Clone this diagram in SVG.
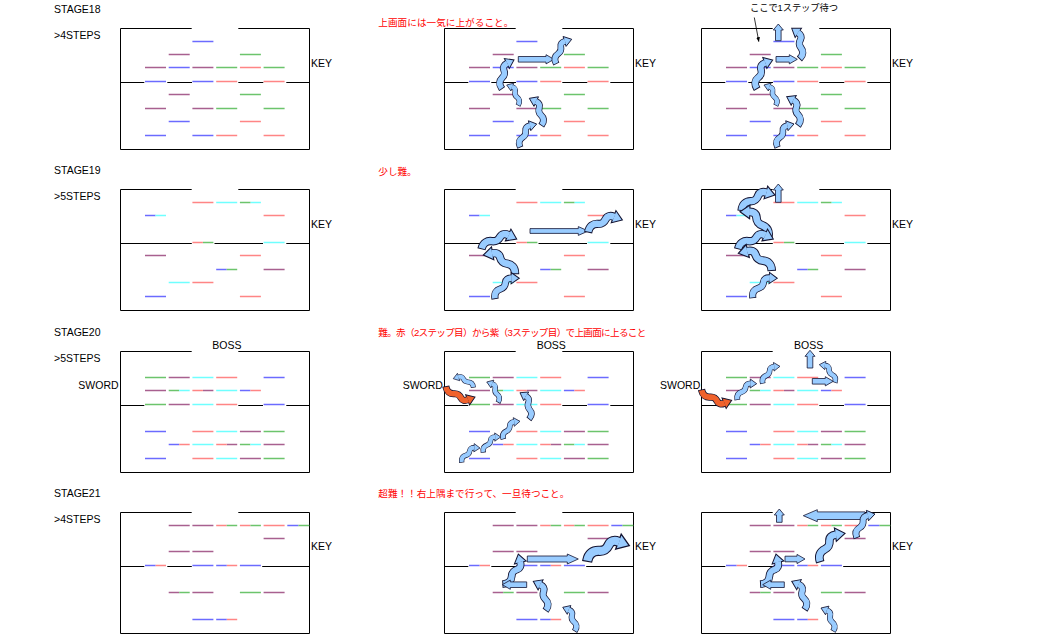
<svg xmlns="http://www.w3.org/2000/svg" width="1062" height="638" viewBox="0 0 1062 638">
<style>
.box{fill:none;stroke:#000;stroke-width:1}
.st{fill:none;stroke-width:1.3}
.b{stroke:#6b6bff}.p{stroke:#a8608f}.g{stroke:#6cc46c}.r{stroke:#ff8585}.c{stroke:#6fffff}
.t{font-family:"Liberation Sans",Arial,sans-serif;font-size:10.5px;fill:#000}
.j{font-family:"Liberation Sans","Noto Sans CJK JP",sans-serif;font-size:9.6px;fill:#f00}
.ar{fill:#99ccff;stroke:#141432;stroke-width:0.8}
.wb{color:#99ccff}.wo{color:#f0622c}
</style>
<defs>
<marker id="ah" viewBox="0 0 10 10" refX="9" refY="5" markerWidth="6" markerHeight="6" orient="auto"><path d="M0,1L10,5L0,9Z" fill="#000"/></marker>
<g id="wv">
<path d="M-1.4,2.4L0,0C8,-14 20,-17 32,-12C44,-7 50,-10 58,-18C64,-24 73,-23 80.1,-16.7" fill="none" stroke="#141432" stroke-width="23"/>
<path d="M68.5,-2.9L100,0L91.7,-30.5Z" fill="currentColor" stroke="#141432" stroke-width="3"/>
<path d="M0,0C8,-14 20,-17 32,-12C44,-7 50,-10 58,-18C64,-24 73,-23 80.1,-16.7L81.6,-15.4" fill="none" stroke="currentColor" stroke-width="18"/>
</g>
<path id="bx" class="box" d="M71.2,0H0V121H189V0H117.8"/>
<g id="s18">
<use href="#bx"/>
<path class="box" d="M0,54H23.8M46.8,54H71.5M117.8,54H142.8M165.8,54H189"/>
<path class="st b" d="M71.9,13h21M48.2,39h21M24.5,53h21M71.9,53h21M48.2,93h21M24.5,107h21M71.9,107h21"/>
<path class="st p" d="M48.2,26h21M24.5,39h21M71.9,39h21M48.2,66h21M24.5,80h21M71.9,80h21"/>
<path class="st g" d="M119.4,26h21M95.7,39h21M143.1,39h21M119.4,66h21M95.7,80h21M143.1,80h21"/>
<path class="st r" d="M119.4,39h21M95.7,53h21M143.1,53h21M119.4,93h21M95.7,107h21M143.1,107h21"/>
</g>
<g id="s19">
<use href="#bx"/>
<path class="box" d="M0,54H71.3M94,54H142.5M165.8,54H189"/>
<path class="st b" d="M24.5,26h10.5M95.7,80h10.5M24.5,107h21"/>
<path class="st c" d="M95.7,13h21M129.9,13h10.5M35,26h10.5M143.1,53h21M48.2,93h21"/>
<path class="st g" d="M119.4,13h10.5M82.4,53h10.5M106.2,80h10.5"/>
<path class="st r" d="M71.9,13h21M143.1,26h21M71.9,53h10.5M119.4,66h21M71.9,93h21M119.4,107h21"/>
<path class="st p" d="M24.5,66h21M143.1,80h21"/>
</g>
<g id="s20">
<use href="#bx"/>
<path class="box" d="M0,54H23.8M117.8,54H142.5M165.8,54H189"/>
<path class="st b" d="M143.1,26h21M119.4,39h10.5M143.1,53h21M24.5,80h21M48.2,93h10.5M24.5,107h21"/>
<path class="st p" d="M48.2,26h21M24.5,39h21M82.4,39h10.5M48.2,53h21M119.4,80h21M106.2,93h10.5M143.1,93h21M119.4,107h21"/>
<path class="st g" d="M24.5,26h21M48.2,39h10.5M24.5,53h21M143.1,80h21M119.4,93h10.5M143.1,107h21"/>
<path class="st r" d="M95.7,26h21M71.9,39h10.5M129.9,39h10.5M95.7,53h21M71.9,80h21M58.7,93h10.5M95.7,93h10.5M71.9,107h21"/>
<path class="st c" d="M71.9,26h21M58.7,39h10.5M95.7,39h21M71.9,53h21M95.7,80h21M71.9,93h21M129.9,93h10.5M95.7,107h21"/>
</g>
<g id="s21">
<use href="#bx"/>
<path class="box" d="M0,54H23.8M46.8,54H71.3M141.7,54H189"/>
<path class="st p" d="M48.2,13h21M71.9,13h21M143.1,26h21M48.2,39h21M71.9,39h21M48.2,80h10.5M71.9,80h21M143.1,80h21"/>
<path class="st r" d="M95.7,13h10.5M119.4,13h10.5M143.1,13h21M35,53h10.5M106.2,53h10.5M106.2,107h10.5"/>
<path class="st g" d="M106.2,13h10.5M129.9,13h10.5M177.8,13h11M58.7,80h10.5M119.4,80h21"/>
<path class="st b" d="M166.8,13h11M24.5,53h10.5M71.9,53h21M95.7,53h10.5M119.4,53h21M71.9,107h21M95.7,107h10.5"/>
</g>
</defs>
<rect width="1062" height="638" fill="#fff"/>

<g id="stage18">
<text class="t" x="54" y="12.5">STAGE18</text>
<text class="t" x="54" y="39.2">&gt;4STEPS</text>
<text class="j" x="378.3" y="26" textLength="135">上画面には一気に上がること。</text>
<text class="t" x="750" y="11" style="font-family:'Liberation Sans','Noto Sans CJK JP',sans-serif;font-size:9.3px" textLength="88">ここで1ステップ待つ</text>
<g id="p18a" transform="translate(120.5,28.5)"><use href="#s18"/><text class="t" x="190.5" y="38">KEY</text></g>
<g id="p18b" transform="translate(444.5,28.5)"><use href="#s18"/><text class="t" x="190.5" y="38">KEY</text></g>
<g id="p18c" transform="translate(701.5,28.5)"><use href="#s18"/><text class="t" x="190.5" y="38">KEY</text></g>
</g>

<g id="stage19">
<text class="t" x="54" y="173.5">STAGE19</text>
<text class="t" x="54" y="200.2">&gt;5STEPS</text>
<text class="j" x="378.3" y="174.5">少し難。</text>
<g id="p19a" transform="translate(120.5,189.5)"><use href="#s19"/><text class="t" x="190.5" y="38">KEY</text></g>
<g id="p19b" transform="translate(444.5,189.5)"><use href="#s19"/><text class="t" x="190.5" y="38">KEY</text></g>
<g id="p19c" transform="translate(701.5,189.5)"><use href="#s19"/><text class="t" x="190.5" y="38">KEY</text></g>
</g>

<g id="stage20">
<text class="t" x="54" y="335.5">STAGE20</text>
<text class="t" x="54" y="362.2">&gt;5STEPS</text>
<text class="j" x="378.3" y="335.5" textLength="268">難。赤（2ステップ目）から紫（3ステップ目）で上画面に上ること</text>
<g id="p20a" transform="translate(120.5,351.5)"><use href="#s20"/><text class="t" x="91.8" y="-3">BOSS</text><text class="t" x="-42.2" y="37">SWORD</text></g>
<g id="p20b" transform="translate(444.5,351.5)"><use href="#s20"/><text class="t" x="92.2" y="-3">BOSS</text><text class="t" x="-41.8" y="37">SWORD</text></g>
<g id="p20c" transform="translate(701.5,351.5)"><use href="#s20"/><text class="t" x="92.5" y="-3">BOSS</text><text class="t" x="-41.5" y="37">SWORD</text></g>
</g>

<g id="stage21">
<text class="t" x="54" y="496.5">STAGE21</text>
<text class="t" x="54" y="523.2">&gt;4STEPS</text>
<text class="j" x="378.3" y="497" textLength="191">超難！！右上隅まで行って、一旦待つこと。</text>
<g id="p21a" transform="translate(120.5,512.5)"><use href="#s21"/><text class="t" x="190.5" y="37">KEY</text></g>
<g id="p21b" transform="translate(444.5,512.5)"><use href="#s21"/><text class="t" x="190.5" y="37">KEY</text></g>
<g id="p21c" transform="translate(701.5,512.5)"><use href="#s21"/><text class="t" x="190.5" y="37">KEY</text></g>
</g>

<g id="arrows">
<line x1="754.3" y1="17.5" x2="758.8" y2="41.5" stroke="#000" stroke-width="0.8" marker-end="url(#ah)"/>
<!-- row 1 middle -->
<polygon class="ar" points="518.3,56.5 546,56.5 546,54.7 554,59.3 546,63.9 546,62.1 518.3,62.1"/>
<use href="#wv" class="wb" transform="translate(556,63.3) rotate(-56.8) scale(.287)"/>
<use href="#wv" class="wb" transform="translate(501.7,88.3) rotate(-66.5) scale(.309)"/>
<use href="#wv" class="wb" transform="translate(518.3,105) rotate(-120.1) scale(.231,-.231)"/>
<use href="#wv" class="wb" transform="translate(541.7,125) rotate(-114.9) scale(.294,-.294)"/>
<use href="#wv" class="wb" transform="translate(520,146.7) rotate(-53.7) scale(.282)"/>
<!-- row 1 right -->
<polygon class="ar" points="775.5,40.7 775.5,30 773.3,30 778.3,24 783.3,30 781.1,30 781.1,40.7"/>
<use href="#wv" class="wb" transform="translate(800,58.3) rotate(-105.5) scale(.311,-.311)"/>
<polygon class="ar" points="776,56.5 789.3,56.5 789.3,54.7 797.3,59.3 789.3,63.9 789.3,62.1 776,62.1"/>
<use href="#wv" class="wb" transform="translate(756.7,88.3) rotate(-60.5) scale(.325)"/>
<use href="#wv" class="wb" transform="translate(776,105) rotate(-121) scale(.233,-.233)"/>
<use href="#wv" class="wb" transform="translate(798.3,125) rotate(-112.3) scale(.306,-.306)"/>
<use href="#wv" class="wb" transform="translate(777.3,146.7) rotate(-53.7) scale(.282)"/>
<!-- row 2 middle -->
<polygon class="ar" points="530,228.6 578.3,228.6 578.3,226.6 588.3,231 578.3,235.4 578.3,233.4 530,233.4"/>
<use href="#wv" class="wb" transform="translate(588.3,231.7) rotate(-19) scale(.36)"/>
<use href="#wv" class="wb" transform="translate(481.7,248.3) rotate(-14.9) scale(.362)"/>
<use href="#wv" class="wb" transform="translate(515,273.3) rotate(-150) scale(.366,-.366)"/>
<use href="#wv" class="wb" transform="translate(495,298.3) rotate(-39.5) scale(.315)"/>
<!-- row 2 right -->
<polygon class="ar" points="775.5,202.3 775.5,190 773.3,190 778.3,184 783.3,190 781.1,190 781.1,202.3"/>
<use href="#wv" class="wb" transform="translate(741.7,210) rotate(-24.2) scale(.365)"/>
<use href="#wv" class="wb" transform="translate(768.3,236.7) rotate(-138.5) scale(.378,-.378)"/>
<use href="#wv" class="wb" transform="translate(738.3,248.3) rotate(-14.9) scale(.362)"/>
<use href="#wv" class="wb" transform="translate(771.7,270) rotate(-153.4) scale(.373,-.373)"/>
<use href="#wv" class="wb" transform="translate(752.7,297.3) rotate(-37.7) scale(.311)"/>
<!-- row 3 middle -->
<use href="#wv" class="wo" transform="translate(446,387) rotate(19) scale(.307,-.307)"/>
<use href="#wv" class="wb" transform="translate(473.3,387) rotate(-157.5) scale(.217,-.217)"/>
<use href="#wv" class="wb" transform="translate(498.3,402) rotate(-120) scale(.231,-.231)"/>
<use href="#wv" class="wb" transform="translate(529.3,418.7) rotate(-109.7) scale(.276,-.276)"/>
<use href="#wv" class="wb" transform="translate(461.7,462) rotate(-37.4) scale(.23)"/>
<use href="#wv" class="wb" transform="translate(483.3,452) rotate(-40.8) scale(.23)"/>
<use href="#wv" class="wb" transform="translate(503.3,438.7) rotate(-46.2) scale(.241)"/>
<!-- row 3 right -->
<use href="#wv" class="wo" transform="translate(701.7,390.3) rotate(18.4) scale(.316,-.316)"/>
<use href="#wv" class="wb" transform="translate(737.3,399.3) rotate(-38.8) scale(.249)"/>
<use href="#wv" class="wb" transform="translate(762.7,383) rotate(-44) scale(.24)"/>
<polygon class="ar" points="807.2,368 807.2,356.3 805,356.3 810,350.3 815,356.3 812.8,356.3 812.8,368"/>
<use href="#wv" class="wb" transform="translate(835,382) rotate(-132.2) scale(.234,-.234)"/>
<polygon class="ar" points="812.3,378.5 825.3,378.5 825.3,376.7 833.3,381.3 825.3,385.9 825.3,384.1 812.3,384.1"/>
<!-- row 4 middle -->
<polygon class="ar" points="527.3,556 567.3,556 567.3,554 578.3,559 567.3,564 567.3,562 527.3,562"/>
<use href="#wv" class="wb" transform="translate(587.3,560.7) rotate(-19.7) scale(.446)"/>
<use href="#wv" class="wb" transform="translate(503.3,584) rotate(-63.4) scale(.335,-.335)"/>
<polygon class="ar" points="526.7,581.9 510.3,581.9 510.3,580.1 502.3,584.7 510.3,589.3 510.3,587.5 526.7,587.5"/>
<use href="#wv" class="wb" transform="translate(546,610) rotate(-113.9) scale(.314,-.314)"/>
<use href="#wv" class="wb" transform="translate(575,630.7) rotate(-117.7) scale(.264,-.264)"/>
<!-- row 4 right -->
<polygon class="ar" points="776.5,522.3 776.5,515 774.3,515 779.3,509 784.3,515 782.1,515 782.1,522.3"/>
<polygon class="ar" points="865,511.9 817.3,511.9 817.3,509.7 803.3,515.7 817.3,521.7 817.3,519.5 865,519.5"/>
<use href="#wv" class="wb" transform="translate(856.7,537.3) rotate(-51.9) scale(.296)"/>
<use href="#wv" class="wb" transform="translate(820,561.3) rotate(-48.2) scale(.375)"/>
<polygon class="ar" points="785,556.2 797,556.2 797,554.4 805,559 797,563.6 797,561.8 785,561.8"/>
<use href="#wv" class="wb" transform="translate(761,584) rotate(-63.4) scale(.335,-.335)"/>
<polygon class="ar" points="784.3,581.9 770.7,581.9 770.7,580.1 762.7,584.7 770.7,589.3 770.7,587.5 784.3,587.5"/>
<use href="#wv" class="wb" transform="translate(805,609) rotate(-115.6) scale(.307,-.307)"/>
<use href="#wv" class="wb" transform="translate(833.3,630.7) rotate(-118.5) scale(.258,-.258)"/>
</g>
</svg>
